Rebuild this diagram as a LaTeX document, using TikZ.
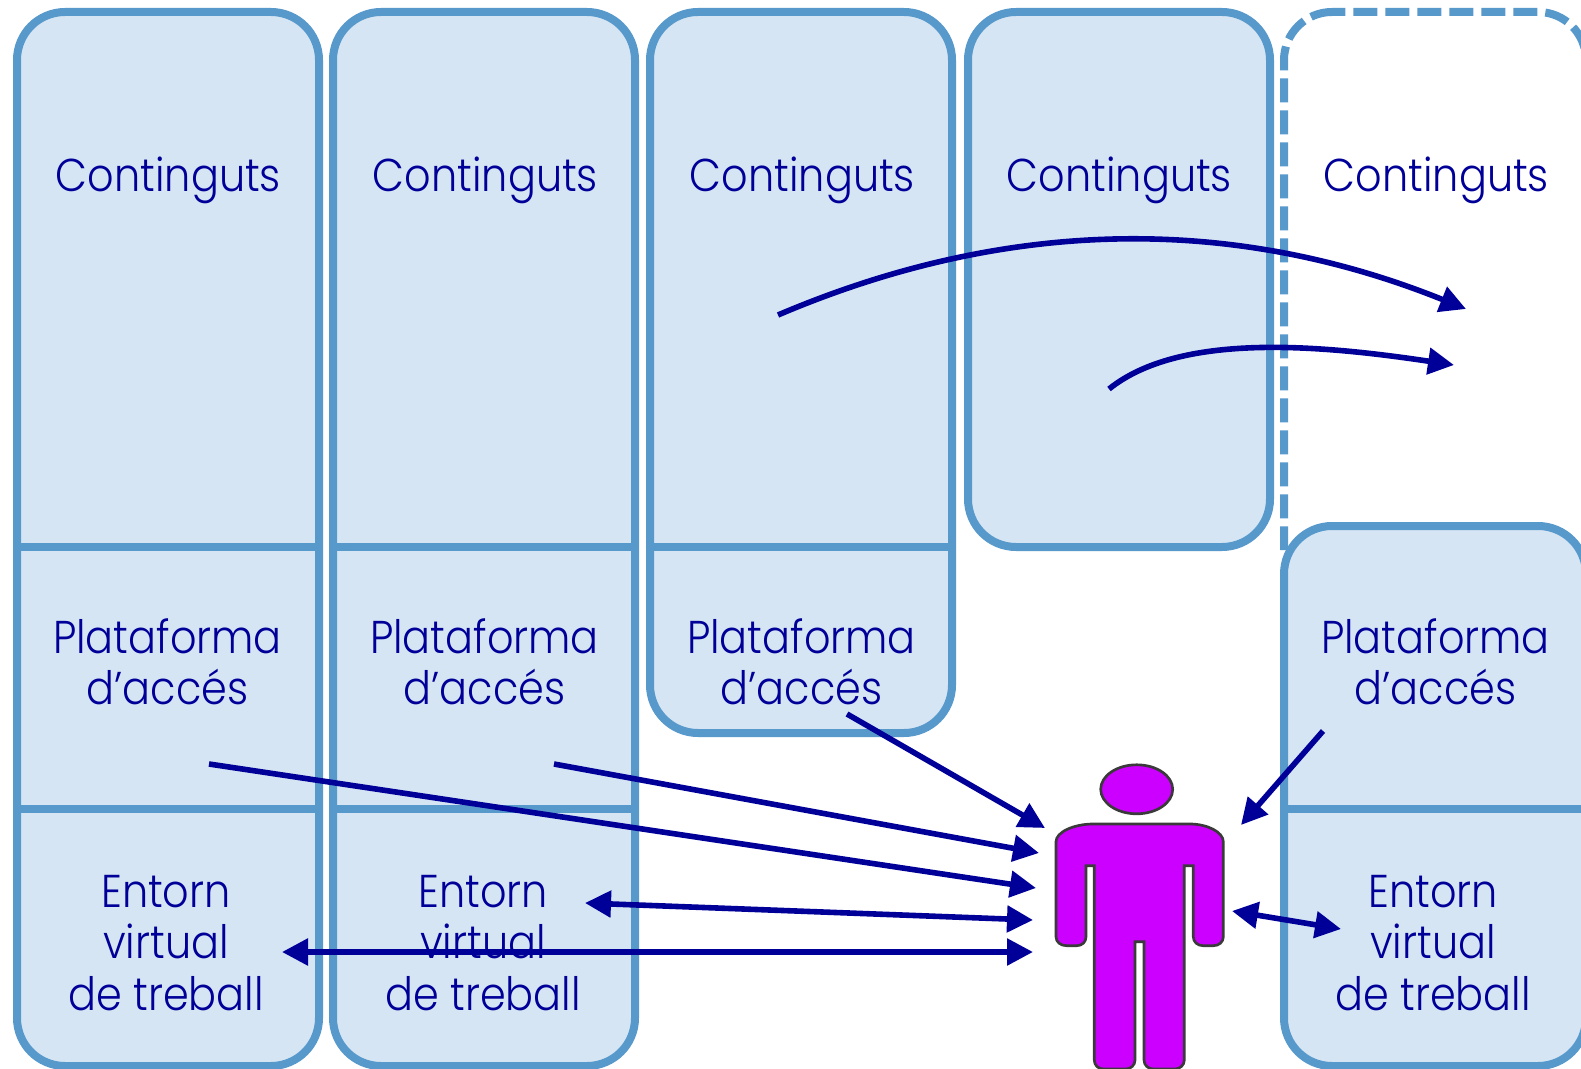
\documentclass[tikz,border=0pt]{standalone}
\usepackage{fontspec}
\setmainfont{Poppins Light}[FakeStretch=0.9]
\usetikzlibrary{arrows.meta,shapes.geometric}
\definecolor{panelline}{HTML}{5899CC}
\definecolor{panelfill}{HTML}{D6E5F3}
\definecolor{ink}{HTML}{000099}
\definecolor{personfill}{HTML}{CC00FF}
\definecolor{personline}{HTML}{3A3A3A}
\tikzset{
  x=0.75pt,y=-0.75pt,
  panel/.style={draw=panelline,fill=panelfill,line width=6pt,rounded corners=36pt,inner sep=0pt,outer sep=0pt,anchor=north west,minimum width=226.5pt},
  divider/.style={draw=panelline,line width=6pt},
  dashpanel/.style={draw=panelline,line width=6pt,dash pattern=on 18pt off 6pt,rounded corners=36pt},
  label/.style={text=ink,font=\fontsize{34.5pt}{38.6pt}\selectfont,align=center,inner sep=0pt,anchor=center},
  arrowline/.style={draw=ink,line width=4.2pt,-{Triangle[length=19.5pt,width=19.5pt]}},
  biarrow/.style={draw=ink,line width=4.2pt,{Triangle[length=19.5pt,width=19.5pt]}-{Triangle[length=19.5pt,width=19.5pt]}},
  personshape/.style={draw=personline,fill=personfill,line width=2pt},
}
\begin{document}
\begin{tikzpicture}
\clip (0,0) rectangle (1581,1069);
\fill[white] (0,0) rectangle (1581,1069);
% dashed box (its right side runs off the page)
\draw[dashpanel,dash phase=8pt] (1332,12) -- (1586,12) -- (1586,700);
\draw[dashpanel,dash phase=1.7pt] (1332,12) -- (1284,12) -- (1284,550);
% panels
\node[panel,minimum height=790.5pt] (col1) at (17,12) {};
\node[panel,minimum height=790.5pt] (col2) at (333,12) {};
\node[panel,minimum height=540.75pt] (col3) at (650,12) {};
\node[panel,minimum height=401.25pt] (col4) at (968,12) {};
\node[panel,minimum height=405pt] (col5) at (1284,526) {};
% dividers
\draw[divider] (17,547) -- (319,547) (17,809) -- (319,809);
\draw[divider] (333,547) -- (635,547) (333,809) -- (635,809);
\draw[divider] (650,547) -- (952,547);
\draw[divider] (1284,809) -- (1586,809);
% labels
\node[label] (cont1) at (168.5,180) {Continguts};
\node[label] (cont2) at (485.5,180) {Continguts};
\node[label] (cont3) at (802.5,180) {Continguts};
\node[label] (cont4) at (1119.5,180) {Continguts};
\node[label] (cont5) at (1436.5,180) {Continguts};
\node[label] (plat1) at (167.5,662) {Plataforma\\d’accés};
\node[label] (plat2) at (484.5,662) {Plataforma\\d’accés};
\node[label] (plat3) at (801.5,662) {Plataforma\\d’accés};
\node[label] (plat5) at (1435.5,662) {Plataforma\\d’accés};
\node[label] (ento1) at (166,943) {Entorn\\virtual\\de treball};
\node[label] (ento2) at (483,943) {Entorn\\virtual\\de treball};
\node[label] (ento5) at (1433,943) {Entorn\\virtual\\de treball};
% person
\node[personshape,ellipse,minimum width=54pt,minimum height=36.75pt,inner sep=0pt] (head) at (1136.7,789.3) {};
\draw[personshape] (1093.3,824) -- (1190,824)
  .. controls (1207,824) and (1223.3,832) .. (1223.3,841.7)
  -- (1223.3,936.7) .. controls (1223.3,942) and (1219,945.7) .. (1213.3,945.7)
  -- (1203.3,945.7) .. controls (1197.5,945.7) and (1193.3,942) .. (1193.3,936.7)
  -- (1193.3,865.7) -- (1184.3,865.7) -- (1184.3,1060)
  .. controls (1184.3,1065) and (1180,1069) .. (1175,1069)
  -- (1153.3,1069) .. controls (1148,1069) and (1144,1065) .. (1144,1060)
  -- (1144,941.7) -- (1135,941.7) -- (1135,1060)
  .. controls (1135,1065) and (1131,1069) .. (1125.7,1069)
  -- (1103.3,1069) .. controls (1098,1069) and (1094.3,1065) .. (1094.3,1060)
  -- (1094.3,865.7) -- (1086,865.7) -- (1086,936.7)
  .. controls (1086,942) and (1082,945.7) .. (1076.7,945.7)
  -- (1066.7,945.7) .. controls (1060.5,945.7) and (1056,942) .. (1056,936.7)
  -- (1056,841.7) .. controls (1056,832) and (1074,824) .. (1093.3,824) -- cycle;
% arrow ends
\coordinate (a1s) at (778,315); \coordinate (a1e) at (1466,309);
\coordinate (a2s) at (1109,389); \coordinate (a2e) at (1454,365);
\coordinate (l1s) at (209,764); \coordinate (l1e) at (1036,888);
\coordinate (l2s) at (554,764); \coordinate (l2e) at (1039,853);
\coordinate (l3s) at (847,714); \coordinate (l3e) at (1045,828);
\coordinate (l4s) at (585,903); \coordinate (l4e) at (1033,920);
\coordinate (l5s) at (282,952); \coordinate (l5e) at (1033,952);
\coordinate (l6s) at (1323,731); \coordinate (l6e) at (1241,825);
\coordinate (l7s) at (1232,911); \coordinate (l7e) at (1341,929);
% arrows
\draw[arrowline] (a1s) .. controls (1015,214) and (1240,218) .. (a1e);
\draw[arrowline] (a2s) .. controls (1180,332) and (1320,345) .. (a2e);
\draw[arrowline] (l1s) -- (l1e);
\draw[arrowline] (l2s) -- (l2e);
\draw[arrowline] (l3s) -- (l3e);
\draw[biarrow] (l4s) -- (l4e);
\draw[biarrow] (l5s) -- (l5e);
\draw[arrowline] (l6s) -- (l6e);
\draw[biarrow] (l7s) -- (l7e);
\end{tikzpicture}
\end{document}
